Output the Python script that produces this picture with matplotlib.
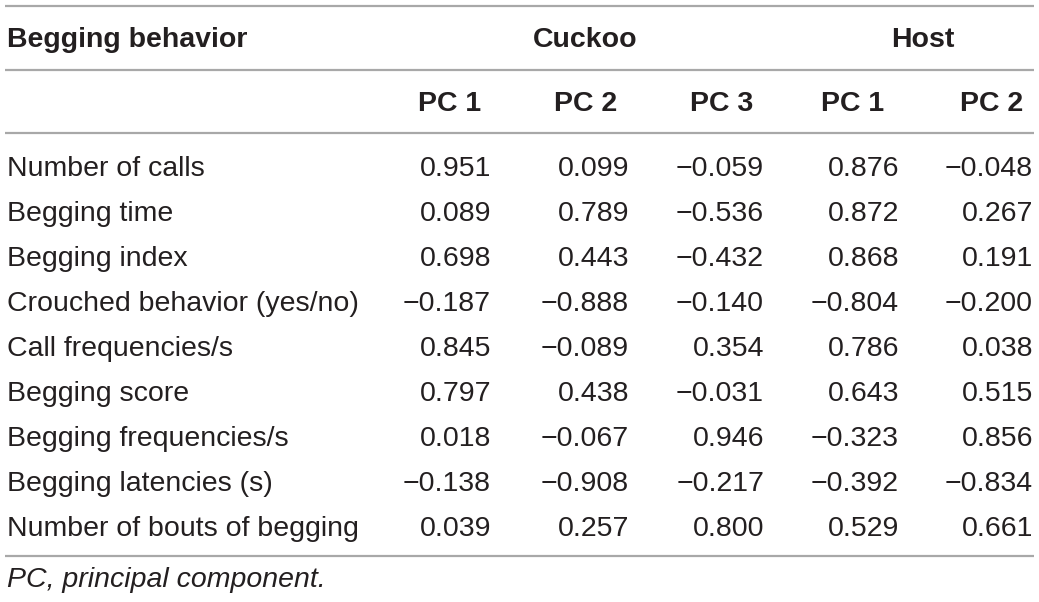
import matplotlib
matplotlib.use("Agg")
import matplotlib.pyplot as plt

# ── Table content
behaviors = [
    "Number of calls",
    "Begging time",
    "Begging index",
    "Crouched behavior (yes/no)",
    "Call frequencies/s",
    "Begging score",
    "Begging frequencies/s",
    "Begging latencies (s)",
    "Number of bouts of begging",
]
cuckoo_pc1 = [0.951, 0.089, 0.698, -0.187, 0.845, 0.797, 0.018, -0.138, 0.039]
cuckoo_pc2 = [0.099, 0.789, 0.443, -0.888, -0.089, 0.438, -0.067, -0.908, 0.257]
cuckoo_pc3 = [-0.059, -0.536, -0.432, -0.140, 0.354, -0.031, 0.946, -0.217, 0.800]
host_pc1 = [0.876, 0.872, 0.868, -0.804, 0.786, 0.643, -0.323, -0.392, 0.529]
host_pc2 = [-0.048, 0.267, 0.191, -0.200, 0.038, 0.515, 0.856, -0.834, 0.661]

group_labels = ["Cuckoo", "Host"]
col_labels = ["PC 1", "PC 2", "PC 3", "PC 1", "PC 2"]
first_header = "Begging behavior"
footnote = "PC, principal component."

TEXT = "#231f20"
RULE = "#a8a8a8"
FS = 20.5
FONT = "Liberation Sans"


def fmt(v):
    s = f"{abs(v):.3f}"
    return ("\u2212" + s) if v < 0 else s


W, H = 1039, 602
fig = plt.figure(figsize=(W / 100, H / 100), dpi=100)
ax = fig.add_axes([0, 0, 1, 1])
ax.set_xlim(0, W)
ax.set_ylim(H, 0)
ax.axis("off")

# horizontal rules
for y in [6, 70, 133, 556]:
    ax.plot([5, 1034], [y, y], color=RULE, lw=1.6, solid_capstyle="butt")

# header rows (positions are text baselines in pixels)
ax.text(7, 47, first_header, ha="left", va="baseline", fontsize=FS,
        fontweight="bold", color=TEXT, family=FONT)
ax.text(585, 47, group_labels[0], ha="center", va="baseline", fontsize=FS,
        fontweight="bold", color=TEXT, family=FONT)
ax.text(923, 47, group_labels[1], ha="center", va="baseline", fontsize=FS,
        fontweight="bold", color=TEXT, family=FONT)

header_right = [481, 617, 753, 884, 1023]
for x, lab in zip(header_right, col_labels):
    ax.text(x, 111, lab, ha="right", va="baseline", fontsize=FS,
            fontweight="bold", color=TEXT, family=FONT)

# body
columns = [cuckoo_pc1, cuckoo_pc2, cuckoo_pc3, host_pc1, host_pc2]
value_right = [491, 629, 764, 899, 1033]
for i, name in enumerate(behaviors):
    y = 175.5 + i * 45.1
    ax.text(7, y, name, ha="left", va="baseline", fontsize=FS,
            color=TEXT, family=FONT)
    for x, col in zip(value_right, columns):
        ax.text(x, y, fmt(col[i]), ha="right", va="baseline", fontsize=FS,
                color=TEXT, family=FONT)

ax.text(7, 587, footnote, ha="left", va="baseline", fontsize=FS,
        style="italic", color=TEXT, family=FONT)

fig.savefig("out.png", dpi=100, facecolor="white")
plt.close(fig)
